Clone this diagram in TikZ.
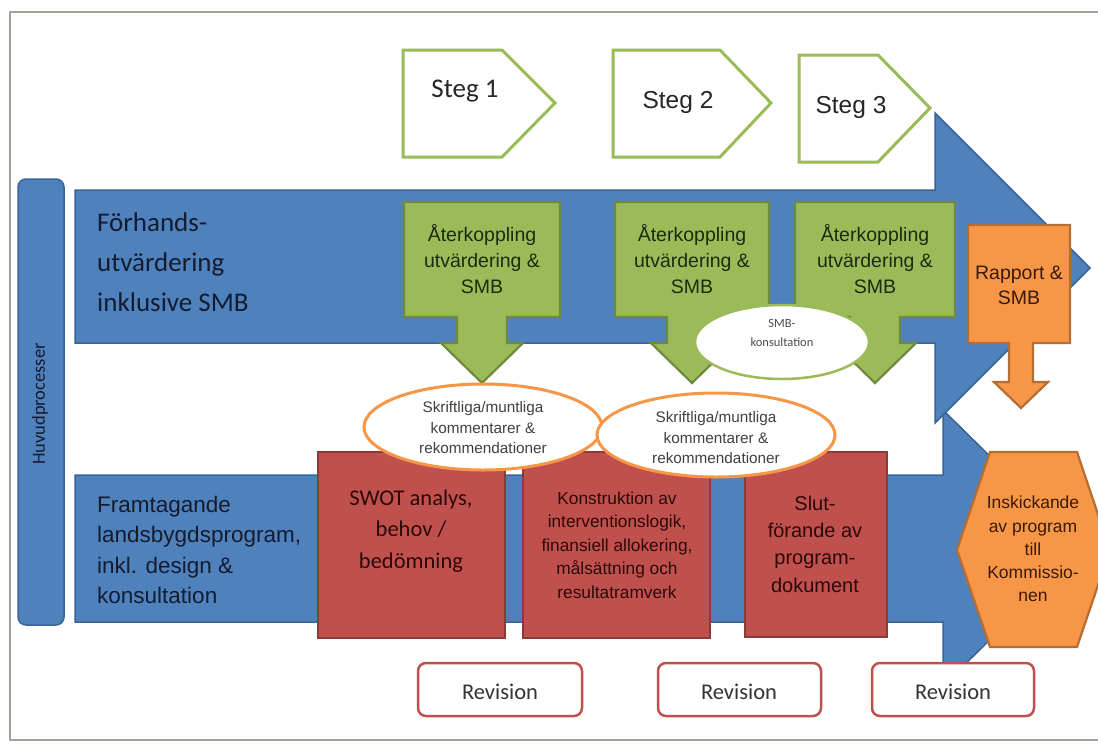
\documentclass[tikz,border=0pt]{standalone}
\usepackage{fontspec}
\setmainfont{Liberation Sans}
\newfontfamily\calfont{Carlito}
\definecolor{bluefill}{HTML}{4F81BD}
\definecolor{blueline}{HTML}{3A6596}
\definecolor{greenfill}{HTML}{9BBB59}
\definecolor{greenline}{HTML}{71893F}
\definecolor{redfill}{HTML}{C0504D}
\definecolor{redline}{HTML}{8C3A38}
\definecolor{orfill}{HTML}{F79646}
\definecolor{orline}{HTML}{B66D31}
\definecolor{frameg}{HTML}{A3A394}
\definecolor{bandtext}{HTML}{141C30}
\definecolor{greentext}{HTML}{1F2A10}
\definecolor{redtext}{HTML}{2A0A08}
\definecolor{ortext}{HTML}{3A1A08}
\begin{document}
\begin{tikzpicture}[x=1pt,y=-1pt,
  bluearrow/.style={fill=bluefill,draw=blueline,line width=1.5pt,line join=miter},
  stegbox/.style={fill=white,draw=greenfill,line width=3pt,line join=miter},
  callout/.style={fill=greenfill,draw=greenline,line width=2.2pt,line join=miter},
  redbox/.style={fill=redfill,draw=redline,line width=2pt},
  orshape/.style={fill=orfill,draw=orline,line width=2.2pt,line join=miter},
  orell/.style={fill=white,draw=orfill,line width=3pt},
  smbell/.style={fill=white,draw=greenfill,line width=2.5pt},
  revbox/.style={fill=white,draw=redfill,line width=2.5pt,rounded corners=8pt},
  txt/.style={inner sep=0pt,align=center},
]
\useasboundingbox (0,0) rectangle (1098,748);
\clip (0,0) rectangle (1098,748);
\fill[white] (0,0) rectangle (1098,748);
\draw[frameg,line width=1.5pt] (10,12) rectangle (1120,740);

% lower big arrow
\path[bluearrow] (75,475) -- (943,475) -- (943,410) -- (1083,548) -- (943,686) -- (943,622) -- (75,622) -- cycle;
% upper big arrow
\path[bluearrow] (75,190) -- (935,190) -- (935,113) -- (1090,268) -- (935,423) -- (935,343) -- (75,343) -- cycle;

% Huvudprocesser bar
\path[fill=bluefill,draw=blueline,line width=1.5pt,rounded corners=8pt] (18,179) rectangle (64,625);
\node[txt,rotate=90,text=bandtext,font=\calfont\fontsize{18.5}{20}\selectfont] (huvud) at (40,404) {Huvudprocesser};

% band texts
\node[txt,anchor=west,align=left,text=bandtext,font=\calfont\fontsize{27}{40}\selectfont] (forh) at (97,262) {Förhands-\\utvärdering\\inklusive SMB};
\node[txt,anchor=west,align=left,text=bandtext,font=\fontsize{22.5}{30.5}\selectfont] (fram) at (97,550) {Framtagande\\landsbygdsprogram,\\inkl. design \&\\konsultation};

% Steg pentagons
\path[stegbox] (403,50) -- (502,50) -- (555,103) -- (502,157) -- (403,157) -- cycle;
\path[stegbox] (613,50) -- (720,50) -- (771,103) -- (720,157) -- (613,157) -- cycle;
\path[stegbox] (799,55) -- (878,55) -- (930,108) -- (878,162) -- (799,162) -- cycle;
\node[txt,text=black!85,font=\calfont\fontsize{27}{30}\selectfont] (steg1) at (465,91) {Steg 1};
\node[txt,text=black!85,font=\fontsize{24.5}{28}\selectfont] (steg2) at (678,102) {Steg 2};
\node[txt,text=black!85,font=\fontsize{24.5}{28}\selectfont] (steg3) at (851,107) {Steg 3};

% green callouts
\foreach \xa/\xb/\c in {404/560/482, 615/769/692, 795/955/875}{
  \path[callout] (\xa,202) -- (\xb,202) -- (\xb,317) -- (\c+25,317) -- (\c+25,343) -- (\c+41,343) -- (\c,383) -- (\c-41,343) -- (\c-25,343) -- (\c-25,317) -- (\xa,317) -- cycle;
}
\node[txt,text=greentext,font=\fontsize{19.5}{26}\selectfont] (g1) at (482,259) {Återkoppling\\utvärdering \&\\SMB};
\node[txt,text=greentext,font=\fontsize{19.5}{26}\selectfont] (g2) at (692,259) {Återkoppling\\utvärdering \&\\SMB};
\node[txt,text=greentext,font=\fontsize{19.5}{26}\selectfont] (g3) at (875,259) {Återkoppling\\utvärdering \&\\SMB};

% Rapport & SMB
\path[orshape] (968,225) -- (1070,225) -- (1070,343) -- (1033,343) -- (1033,382) -- (1048,382) -- (1021,408) -- (994,382) -- (1009,382) -- (1009,343) -- (968,343) -- cycle;
\node[txt,text=ortext,font=\fontsize{19.5}{25}\selectfont] (rapport) at (1019,285) {Rapport \&\\SMB};

% SMB-konsultation
\path[smbell] (782,342) ellipse [x radius=87, y radius=37];
\node[txt,text=black!70,font=\calfont\fontsize{12.5}{19}\selectfont] (smbk) at (782,333) {SMB-\\konsultation};

% red boxes
\path[redbox] (318,452) rectangle (505,638);
\path[redbox] (523,452) rectangle (710,638);
\path[redbox] (745,452) rectangle (887,637);
\node[txt,text=redtext,font=\calfont\fontsize{22.5}{31.5}\selectfont] (swot) at (411,531) {SWOT analys,\\behov /\\bedömning};
\node[txt,text=redtext,font=\fontsize{17.3}{23.5}\selectfont] (konst) at (617,545) {Konstruktion av\\interventionslogik,\\finansiell allokering,\\målsättning och\\resultatramverk};
\node[txt,text=redtext,font=\fontsize{20}{27.3}\selectfont] (slut) at (815,544) {Slut-\\förande av\\program-\\dokument};

% orange ellipses
\path[orell] (483,427) ellipse [x radius=119, y radius=43];
\node[txt,text=black!75,font=\fontsize{15.3}{20.5}\selectfont] (e1) at (483,428) {Skriftliga/muntliga\\kommentarer \&\\rekommendationer};
\path[orell] (716,435) ellipse [x radius=119, y radius=42];
\node[txt,text=black!75,font=\fontsize{15.3}{20.5}\selectfont] (e2) at (716,438) {Skriftliga/muntliga\\kommentarer \&\\rekommendationer};

% hexagon
\path[orshape] (957,550) -- (990,452) -- (1077,452) -- (1110,550) -- (1077,647) -- (990,647) -- cycle;
\node[txt,text=ortext,font=\fontsize{17.5}{23.2}\selectfont] (insk) at (1033,549) {Inskickande\\av program\\till\\Kommissio-\\nen};

% revision boxes
\path[revbox] (418,663) rectangle (582,716);
\path[revbox] (658,663) rectangle (821,716);
\path[revbox] (872,663) rectangle (1034,716);
\node[txt,text=black!80,font=\calfont\fontsize{22.5}{24}\selectfont] (r1) at (500,692) {Revision};
\node[txt,text=black!80,font=\calfont\fontsize{22.5}{24}\selectfont] (r2) at (739,692) {Revision};
\node[txt,text=black!80,font=\calfont\fontsize{22.5}{24}\selectfont] (r3) at (953,692) {Revision};
\end{tikzpicture}
\end{document}
